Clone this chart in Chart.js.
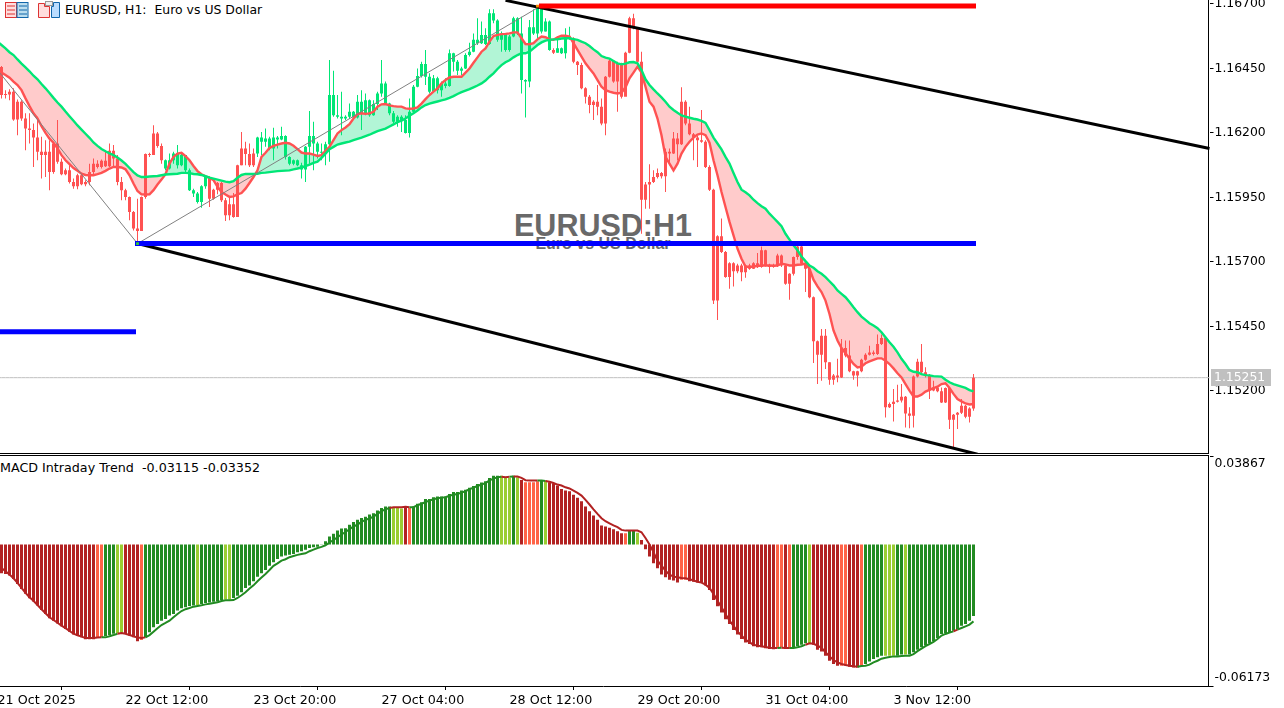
<!DOCTYPE html>
<html>
<head>
<meta charset="utf-8">
<title>EURUSD H1</title>
<script src="https://cdn.jsdelivr.net/npm/chart.js@4"></script>
<style>
  html, body { margin: 0; padding: 0; background: #fff; overflow: hidden; }
  body { width: 1284px; height: 708px; position: relative; font-family: "DejaVu Sans", sans-serif; }
  canvas { position: absolute; left: -4px; }
  .txt { position: absolute; white-space: pre; color: #000; font-size: 12.45px; line-height: 14px; }
  .big { position: absolute; font-family: "Liberation Sans", sans-serif; font-weight: bold; color: #696969; transform: translateX(-50%); white-space: pre; }
  .rule { position: absolute; left: 0; width: 1209px; height: 1px; background: #000; }
  .axis { position: absolute; left: 1208px; width: 1px; background: #000; }
</style>
</head>
<body>
<svg style="position:absolute;left:5px;top:2px" width="24" height="17" viewBox="0 0 24 17">
  <rect x="0.5" y="0.5" width="11" height="15" fill="#fdd" stroke="#d33"/><rect x="12" y="0.5" width="11" height="15" fill="#bde" stroke="#16a"/>
  <path d="M2 4h8M2 8h8M2 12h8" stroke="#d33"/><path d="M14 4h8M14 8h8M14 12h8" stroke="#16a"/>
</svg>
<svg style="position:absolute;left:38px;top:1px" width="23" height="18" viewBox="0 0 23 18">
  <path d="M0.5 2.5h6v3h5v11h-11z" fill="#fdd" stroke="#d33"/><path d="M13.5 5.5h2v-4h6v15h-8z" fill="#bdf" stroke="#16a"/>
  <rect x="7.5" y="0.5" width="7" height="4" fill="#eee" stroke="#999"/>
</svg>
<div class="txt" style="left:65px;top:3px">EURUSD, H1:  Euro vs US Dollar</div>
<div class="big" style="left:603px;top:208px;font-size:30.5px;line-height:35px">EURUSD:H1</div>
<div class="big" style="left:603px;top:235px;font-size:16px;line-height:18px">Euro vs US Dollar</div>
<div class="txt" style="left:0;top:461px;font-size:12.7px">MACD Intraday Trend  -0.03115 -0.03352</div>
<div class="rule" style="top:453px"></div>
<div class="rule" style="top:455px"></div>
<div class="axis" style="top:0;height:454px"></div>
<div class="axis" style="top:455px;height:232px"></div>
<canvas id="priceChart" width="1288" height="454" style="top:0"></canvas>
<canvas id="macdChart" width="1288" height="252" style="top:456px"></canvas>
<script>
const firstOpen = 1.16456;
const closes = [1.16347,1.16349,1.16360,1.16252,1.16321,1.16256,1.16217,1.16211,1.16182,1.16127,1.16114,1.16127,1.16049,1.16159,1.16088,1.16040,1.16055,1.16010,1.15993,1.16036,1.16001,1.16010,1.16049,1.16081,1.16068,1.16092,1.16071,1.16131,1.16101,1.16010,1.15978,1.15952,1.15893,1.15829,1.15820,1.15952,1.16118,1.16114,1.16198,1.16149,1.16094,1.16062,1.16094,1.16120,1.16075,1.16114,1.16055,1.15978,1.15965,1.15932,1.15993,1.16029,1.15945,1.15980,1.16006,1.15939,1.15881,1.15923,1.15874,1.16075,1.16140,1.16118,1.16075,1.16120,1.16182,1.16166,1.16178,1.16140,1.16182,1.16175,1.16188,1.16107,1.16081,1.16094,1.16075,1.16058,1.16146,1.16188,1.16159,1.16127,1.16123,1.16156,1.16347,1.16269,1.16263,1.16256,1.16263,1.16282,1.16260,1.16321,1.16276,1.16327,1.16269,1.16312,1.16353,1.16392,1.16314,1.16276,1.16243,1.16263,1.16250,1.16200,1.16282,1.16379,1.16421,1.16467,1.16418,1.16360,1.16412,1.16366,1.16392,1.16382,1.16509,1.16476,1.16441,1.16450,1.16502,1.16515,1.16561,1.16548,1.16580,1.16545,1.16664,1.16636,1.16561,1.16586,1.16522,1.16574,1.16645,1.16586,1.16405,1.16399,1.16610,1.16586,1.16684,1.16593,1.16632,1.16522,1.16511,1.16528,1.16509,1.16574,1.16567,1.16476,1.16463,1.16373,1.16340,1.16308,1.16321,1.16302,1.16237,1.16418,1.16480,1.16399,1.16470,1.16340,1.16511,1.16645,1.16606,1.16476,1.15941,1.16000,1.16010,1.16029,1.16045,1.16032,1.16127,1.16120,1.16178,1.16156,1.16321,1.16237,1.16195,1.16182,1.16172,1.16166,1.16068,1.15980,1.15550,1.15799,1.15738,1.15641,1.15695,1.15664,1.15686,1.15660,1.15686,1.15673,1.15695,1.15680,1.15745,1.15686,1.15680,1.15686,1.15725,1.15686,1.15615,1.15654,1.15719,1.15760,1.15693,1.15673,1.15563,1.15392,1.15340,1.15414,1.15311,1.15243,1.15259,1.15252,1.15366,1.15337,1.15276,1.15259,1.15276,1.15320,1.15340,1.15349,1.15343,1.15382,1.15405,1.15136,1.15149,1.15158,1.15162,1.15177,1.15112,1.15103,1.15256,1.15313,1.15272,1.15259,1.15201,1.15213,1.15198,1.15155,1.15211,1.15088,1.15107,1.15115,1.15142,1.15099,1.15131,1.15251];
const highs = [1.16460,1.16366,1.16369,1.16373,1.16330,1.16327,1.16276,1.16276,1.16237,1.16263,1.16185,1.16172,1.16172,1.16166,1.16250,1.16101,1.16062,1.16075,1.16023,1.16042,1.16042,1.16017,1.16081,1.16101,1.16094,1.16097,1.16133,1.16159,1.16153,1.16114,1.16029,1.15984,1.15954,1.15897,1.15945,1.15954,1.16120,1.16123,1.16230,1.16204,1.16159,1.16097,1.16120,1.16127,1.16153,1.16120,1.16114,1.16062,1.15984,1.15971,1.15997,1.16032,1.16032,1.15984,1.16010,1.16010,1.15948,1.15949,1.15967,1.16077,1.16204,1.16166,1.16159,1.16140,1.16185,1.16204,1.16217,1.16185,1.16220,1.16188,1.16224,1.16191,1.16110,1.16097,1.16097,1.16084,1.16149,1.16285,1.16243,1.16166,1.16159,1.16166,1.16483,1.16441,1.16347,1.16360,1.16269,1.16314,1.16285,1.16347,1.16366,1.16353,1.16330,1.16327,1.16360,1.16483,1.16399,1.16317,1.16285,1.16269,1.16269,1.16269,1.16334,1.16386,1.16450,1.16476,1.16522,1.16431,1.16425,1.16418,1.16399,1.16412,1.16524,1.16511,1.16483,1.16457,1.16509,1.16550,1.16586,1.16645,1.16632,1.16606,1.16680,1.16680,1.16641,1.16593,1.16586,1.16580,1.16651,1.16649,1.16651,1.16408,1.16638,1.16680,1.16690,1.16688,1.16645,1.16636,1.16528,1.16574,1.16531,1.16606,1.16612,1.16571,1.16479,1.16472,1.16377,1.16347,1.16327,1.16386,1.16334,1.16421,1.16485,1.16483,1.16476,1.16472,1.16515,1.16651,1.16662,1.16580,1.16515,1.16010,1.16079,1.16055,1.16062,1.16049,1.16140,1.16140,1.16204,1.16200,1.16377,1.16327,1.16302,1.16200,1.16188,1.16289,1.16172,1.16075,1.15984,1.15803,1.15868,1.15742,1.15699,1.15699,1.15693,1.15693,1.15689,1.15693,1.15699,1.15734,1.15760,1.15747,1.15693,1.15693,1.15732,1.15729,1.15690,1.15656,1.15721,1.15764,1.15764,1.15699,1.15676,1.15566,1.15395,1.15440,1.15440,1.15311,1.15265,1.15324,1.15401,1.15395,1.15395,1.15278,1.15278,1.15324,1.15346,1.15375,1.15356,1.15418,1.15418,1.15405,1.15155,1.15207,1.15224,1.15226,1.15180,1.15136,1.15259,1.15324,1.15382,1.15291,1.15265,1.15239,1.15216,1.15213,1.15213,1.15213,1.15110,1.15118,1.15168,1.15145,1.15136,1.15265];
const lows = [1.16334,1.16334,1.16327,1.16247,1.16191,1.16247,1.16133,1.16159,1.16068,1.16094,1.16023,1.16029,1.15978,1.16042,1.16081,1.16036,1.16036,1.16004,1.15984,1.15982,1.15997,1.15993,1.15997,1.16040,1.16062,1.16062,1.16068,1.16068,1.16068,1.15997,1.15939,1.15939,1.15861,1.15822,1.15764,1.15820,1.15945,1.16107,1.16114,1.16143,1.16081,1.16055,1.16058,1.16081,1.16062,1.16071,1.16042,1.15975,1.15952,1.15926,1.15910,1.15984,1.15913,1.15941,1.15962,1.15932,1.15859,1.15861,1.15871,1.15874,1.16075,1.16075,1.16068,1.16068,1.16107,1.16114,1.16146,1.16133,1.16094,1.16140,1.16172,1.16097,1.16075,1.16075,1.16071,1.16023,1.16010,1.16081,1.16055,1.16101,1.16094,1.16075,1.16088,1.16263,1.16256,1.16191,1.16250,1.16254,1.16250,1.16256,1.16211,1.16269,1.16263,1.16267,1.16289,1.16340,1.16308,1.16269,1.16237,1.16224,1.16204,1.16198,1.16182,1.16276,1.16377,1.16415,1.16386,1.16353,1.16356,1.16353,1.16340,1.16373,1.16379,1.16438,1.16425,1.16425,1.16448,1.16496,1.16513,1.16541,1.16545,1.16541,1.16542,1.16625,1.16554,1.16515,1.16515,1.16515,1.16571,1.16580,1.16353,1.16260,1.16377,1.16580,1.16567,1.16586,1.16593,1.16519,1.16506,1.16511,1.16506,1.16489,1.16561,1.16470,1.16425,1.16369,1.16314,1.16276,1.16250,1.16269,1.16230,1.16191,1.16415,1.16395,1.16282,1.16334,1.16351,1.16509,1.16602,1.16470,1.15809,1.15906,1.15906,1.16006,1.16023,1.16023,1.15971,1.16075,1.16118,1.16094,1.16153,1.16230,1.16191,1.16094,1.16068,1.16162,1.16064,1.15975,1.15537,1.15475,1.15734,1.15638,1.15596,1.15605,1.15656,1.15625,1.15638,1.15669,1.15672,1.15676,1.15677,1.15682,1.15656,1.15677,1.15680,1.15680,1.15611,1.15553,1.15647,1.15708,1.15690,1.15583,1.15559,1.15308,1.15226,1.15239,1.15285,1.15224,1.15224,1.15233,1.15250,1.15330,1.15272,1.15243,1.15217,1.15272,1.15317,1.15337,1.15337,1.15339,1.15378,1.15097,1.15133,1.15081,1.15155,1.15155,1.15058,1.15055,1.15058,1.15252,1.15268,1.15252,1.15168,1.15198,1.15194,1.15153,1.15153,1.15052,1.14980,1.15052,1.15110,1.15094,1.15077,1.15123];
const fastMA = [1.16434,1.16425,1.16414,1.16399,1.16386,1.16366,1.16334,1.16304,1.16276,1.16256,1.16226,1.16200,1.16178,1.16162,1.16140,1.16114,1.16094,1.16079,1.16064,1.16053,1.16042,1.16037,1.16036,1.16036,1.16040,1.16045,1.16053,1.16062,1.16068,1.16068,1.16066,1.16059,1.16036,1.16004,1.15975,1.15962,1.15961,1.15962,1.15978,1.16000,1.16019,1.16040,1.16081,1.16107,1.16120,1.16123,1.16110,1.16094,1.16072,1.16052,1.16040,1.16032,1.16026,1.16017,1.15991,1.15971,1.15961,1.15952,1.15954,1.15962,1.15967,1.15984,1.16006,1.16029,1.16055,1.16107,1.16123,1.16142,1.16150,1.16155,1.16159,1.16162,1.16159,1.16150,1.16137,1.16124,1.16120,1.16120,1.16116,1.16111,1.16114,1.16131,1.16146,1.16172,1.16198,1.16211,1.16221,1.16234,1.16256,1.16273,1.16276,1.16274,1.16276,1.16282,1.16302,1.16311,1.16312,1.16307,1.16304,1.16302,1.16302,1.16295,1.16294,1.16295,1.16299,1.16314,1.16331,1.16347,1.16360,1.16373,1.16392,1.16405,1.16415,1.16418,1.16418,1.16418,1.16434,1.16450,1.16472,1.16493,1.16515,1.16528,1.16554,1.16576,1.16580,1.16583,1.16584,1.16586,1.16590,1.16590,1.16567,1.16545,1.16544,1.16548,1.16563,1.16574,1.16571,1.16563,1.16561,1.16571,1.16577,1.16577,1.16574,1.16548,1.16522,1.16496,1.16470,1.16450,1.16431,1.16405,1.16379,1.16366,1.16360,1.16356,1.16353,1.16356,1.16377,1.16412,1.16434,1.16457,1.16434,1.16379,1.16321,1.16302,1.16256,1.16191,1.16107,1.16081,1.16055,1.16081,1.16120,1.16146,1.16166,1.16182,1.16194,1.16198,1.16191,1.16162,1.16094,1.16036,1.15971,1.15913,1.15855,1.15803,1.15751,1.15712,1.15682,1.15680,1.15682,1.15684,1.15686,1.15686,1.15686,1.15685,1.15686,1.15693,1.15690,1.15686,1.15686,1.15689,1.15690,1.15693,1.15673,1.15631,1.15605,1.15583,1.15550,1.15498,1.15434,1.15395,1.15366,1.15346,1.15324,1.15304,1.15291,1.15294,1.15307,1.15314,1.15320,1.15326,1.15326,1.15317,1.15304,1.15287,1.15268,1.15252,1.15226,1.15201,1.15178,1.15178,1.15185,1.15197,1.15204,1.15210,1.15216,1.15226,1.15229,1.15211,1.15188,1.15168,1.15159,1.15151,1.15147,1.15149];
const slowMA = [1.16541,1.16528,1.16513,1.16502,1.16485,1.16469,1.16454,1.16439,1.16422,1.16408,1.16390,1.16373,1.16355,1.16336,1.16318,1.16302,1.16283,1.16265,1.16247,1.16229,1.16213,1.16197,1.16181,1.16163,1.16150,1.16138,1.16129,1.16121,1.16114,1.16105,1.16093,1.16080,1.16064,1.16048,1.16035,1.16029,1.16029,1.16031,1.16032,1.16033,1.16036,1.16039,1.16040,1.16041,1.16042,1.16045,1.16045,1.16044,1.16041,1.16040,1.16037,1.16032,1.16027,1.16023,1.16019,1.16015,1.16011,1.16009,1.16013,1.16026,1.16037,1.16041,1.16041,1.16041,1.16042,1.16045,1.16046,1.16048,1.16050,1.16052,1.16053,1.16054,1.16055,1.16059,1.16062,1.16066,1.16071,1.16077,1.16084,1.16089,1.16103,1.16120,1.16137,1.16146,1.16155,1.16159,1.16163,1.16166,1.16172,1.16177,1.16182,1.16188,1.16193,1.16200,1.16207,1.16212,1.16217,1.16225,1.16233,1.16242,1.16248,1.16256,1.16267,1.16276,1.16287,1.16299,1.16308,1.16314,1.16318,1.16322,1.16326,1.16330,1.16336,1.16343,1.16351,1.16358,1.16364,1.16370,1.16377,1.16384,1.16392,1.16403,1.16418,1.16431,1.16448,1.16463,1.16474,1.16482,1.16493,1.16502,1.16509,1.16509,1.16515,1.16528,1.16541,1.16551,1.16558,1.16561,1.16563,1.16563,1.16566,1.16567,1.16567,1.16564,1.16561,1.16554,1.16548,1.16537,1.16524,1.16513,1.16498,1.16492,1.16488,1.16479,1.16470,1.16466,1.16469,1.16474,1.16475,1.16470,1.16444,1.16408,1.16386,1.16369,1.16353,1.16338,1.16321,1.16302,1.16289,1.16278,1.16268,1.16263,1.16259,1.16255,1.16252,1.16247,1.16239,1.16211,1.16182,1.16159,1.16136,1.16107,1.16081,1.16045,1.16010,1.15980,1.15970,1.15958,1.15941,1.15928,1.15916,1.15906,1.15887,1.15871,1.15855,1.15838,1.15809,1.15786,1.15764,1.15745,1.15721,1.15703,1.15686,1.15677,1.15664,1.15654,1.15641,1.15625,1.15609,1.15589,1.15576,1.15563,1.15544,1.15524,1.15505,1.15488,1.15475,1.15462,1.15453,1.15443,1.15427,1.15408,1.15388,1.15371,1.15349,1.15324,1.15304,1.15281,1.15274,1.15272,1.15265,1.15261,1.15260,1.15257,1.15256,1.15255,1.15243,1.15233,1.15226,1.15221,1.15216,1.15211,1.15203,1.15198];
const macdValues = [-0.0125,-0.0128,-0.0135,-0.0150,-0.0172,-0.0194,-0.0215,-0.0234,-0.0248,-0.0266,-0.0285,-0.0303,-0.0322,-0.0332,-0.0344,-0.0357,-0.0368,-0.0380,-0.0393,-0.0399,-0.0405,-0.0413,-0.0413,-0.0413,-0.0408,-0.0405,-0.0399,-0.0395,-0.0389,-0.0386,-0.0386,-0.0390,-0.0397,-0.0405,-0.0422,-0.0416,-0.0405,-0.0383,-0.0361,-0.0347,-0.0332,-0.0325,-0.0310,-0.0303,-0.0288,-0.0278,-0.0274,-0.0268,-0.0266,-0.0264,-0.0259,-0.0255,-0.0253,-0.0250,-0.0248,-0.0242,-0.0240,-0.0240,-0.0233,-0.0223,-0.0208,-0.0189,-0.0179,-0.0160,-0.0140,-0.0125,-0.0111,-0.0092,-0.0077,-0.0063,-0.0052,-0.0048,-0.0044,-0.0041,-0.0033,-0.0029,-0.0023,-0.0015,-0.0012,-0.0009,0.0002,0.0015,0.0035,0.0047,0.0061,0.0070,0.0071,0.0087,0.0099,0.0108,0.0116,0.0122,0.0131,0.0137,0.0149,0.0160,0.0166,0.0166,0.0163,0.0160,0.0157,0.0163,0.0160,0.0166,0.0178,0.0185,0.0199,0.0199,0.0207,0.0210,0.0210,0.0210,0.0221,0.0230,0.0230,0.0236,0.0239,0.0248,0.0256,0.0265,0.0271,0.0277,0.0291,0.0301,0.0301,0.0300,0.0291,0.0291,0.0300,0.0294,0.0282,0.0272,0.0272,0.0272,0.0277,0.0282,0.0280,0.0272,0.0268,0.0258,0.0243,0.0236,0.0233,0.0218,0.0204,0.0189,0.0166,0.0146,0.0127,0.0108,0.0083,0.0079,0.0073,0.0067,0.0058,0.0050,0.0050,0.0061,0.0061,0.0052,0.0020,-0.0020,-0.0052,-0.0082,-0.0103,-0.0131,-0.0143,-0.0153,-0.0157,-0.0165,-0.0154,-0.0154,-0.0160,-0.0162,-0.0165,-0.0167,-0.0179,-0.0198,-0.0242,-0.0269,-0.0296,-0.0326,-0.0347,-0.0373,-0.0393,-0.0412,-0.0427,-0.0434,-0.0444,-0.0448,-0.0448,-0.0453,-0.0456,-0.0457,-0.0451,-0.0448,-0.0456,-0.0456,-0.0448,-0.0444,-0.0437,-0.0431,-0.0431,-0.0437,-0.0459,-0.0467,-0.0485,-0.0507,-0.0521,-0.0529,-0.0529,-0.0529,-0.0533,-0.0536,-0.0536,-0.0529,-0.0521,-0.0510,-0.0499,-0.0492,-0.0485,-0.0485,-0.0485,-0.0485,-0.0485,-0.0480,-0.0480,-0.0480,-0.0470,-0.0459,-0.0448,-0.0441,-0.0431,-0.0422,-0.0408,-0.0390,-0.0387,-0.0383,-0.0376,-0.0371,-0.0354,-0.0347,-0.0332,-0.03115];
const signalValues = [-0.0102,-0.0116,-0.0131,-0.0147,-0.0167,-0.0189,-0.0211,-0.0230,-0.0245,-0.0264,-0.0282,-0.0300,-0.0317,-0.0329,-0.0341,-0.0354,-0.0365,-0.0377,-0.0389,-0.0396,-0.0402,-0.0408,-0.0408,-0.0408,-0.0406,-0.0405,-0.0405,-0.0400,-0.0395,-0.0389,-0.0386,-0.0389,-0.0395,-0.0400,-0.0406,-0.0408,-0.0405,-0.0395,-0.0380,-0.0365,-0.0351,-0.0342,-0.0332,-0.0317,-0.0303,-0.0290,-0.0282,-0.0277,-0.0271,-0.0268,-0.0265,-0.0261,-0.0258,-0.0255,-0.0252,-0.0246,-0.0243,-0.0243,-0.0242,-0.0233,-0.0221,-0.0208,-0.0192,-0.0178,-0.0160,-0.0144,-0.0128,-0.0111,-0.0093,-0.0082,-0.0070,-0.0064,-0.0055,-0.0050,-0.0045,-0.0041,-0.0038,-0.0029,-0.0022,-0.0015,-0.0010,-0.0003,0.0009,0.0020,0.0032,0.0044,0.0055,0.0067,0.0079,0.0087,0.0099,0.0108,0.0114,0.0122,0.0134,0.0146,0.0154,0.0160,0.0163,0.0163,0.0163,0.0165,0.0163,0.0163,0.0172,0.0178,0.0186,0.0192,0.0198,0.0202,0.0205,0.0207,0.0213,0.0218,0.0221,0.0227,0.0233,0.0242,0.0248,0.0256,0.0262,0.0268,0.0280,0.0288,0.0294,0.0296,0.0294,0.0296,0.0297,0.0297,0.0291,0.0281,0.0280,0.0280,0.0280,0.0280,0.0278,0.0274,0.0269,0.0262,0.0258,0.0250,0.0245,0.0236,0.0226,0.0214,0.0195,0.0175,0.0154,0.0134,0.0115,0.0102,0.0093,0.0084,0.0076,0.0064,0.0061,0.0061,0.0061,0.0061,0.0054,0.0029,0.0000,-0.0033,-0.0070,-0.0092,-0.0114,-0.0131,-0.0140,-0.0143,-0.0146,-0.0147,-0.0151,-0.0157,-0.0162,-0.0166,-0.0175,-0.0189,-0.0215,-0.0245,-0.0274,-0.0303,-0.0332,-0.0355,-0.0379,-0.0397,-0.0415,-0.0427,-0.0437,-0.0441,-0.0444,-0.0447,-0.0450,-0.0451,-0.0451,-0.0450,-0.0451,-0.0451,-0.0451,-0.0448,-0.0444,-0.0437,-0.0431,-0.0433,-0.0441,-0.0451,-0.0470,-0.0488,-0.0504,-0.0514,-0.0521,-0.0526,-0.0529,-0.0531,-0.0533,-0.0530,-0.0529,-0.0524,-0.0514,-0.0507,-0.0498,-0.0494,-0.0491,-0.0488,-0.0488,-0.0486,-0.0485,-0.0485,-0.0478,-0.0465,-0.0454,-0.0443,-0.0434,-0.0425,-0.0412,-0.0397,-0.0390,-0.0384,-0.0379,-0.0371,-0.0364,-0.0357,-0.0349,-0.03352];
// one bar earlier than the visible window, so the lines run in from the left edge
const fastBefore = 1.16441, slowBefore = 1.16554, signalBefore = -0.0090;
// runs of histogram state: G rising green, Y fading green, R falling red, T fading red
const macdRuns = [["R",24],["T",2],["G",3],["Y",2],["R",4],["T",1],["G",13],["Y",1],["G",6],["Y",2],["G",40],["Y",3],["R",1],["T",1],["G",22],["Y",3],["G",1],["Y",1],["R",1],["T",4],["G",1],["Y",1],["R",19],["T",1],["G",2],["Y",1],["R",10],["T",2],["R",22],["T",2],["R",1],["T",1],["G",4],["Y",1],["R",7],["T",2],["R",3],["T",1],["G",5],["Y",3],["G",2],["Y",1],["G",17]];

const priceTicks = [1.167, 1.1645, 1.162, 1.1595, 1.157, 1.1545, 1.152];
const lastPrice = 1.15251;
const priceMin = 1.14955, priceMax = 1.167155;
const macdTop = 0.03867, macdBottom = -0.06173;

const tickIndexes = [-1, 31, 63, 95, 127, 159, 191, 223];
const tickLabels = ["21 Oct 2025", "22 Oct 12:00", "23 Oct 20:00", "27 Oct 04:00", "28 Oct 12:00", "29 Oct 20:00", "31 Oct 04:00", "3 Nov 12:00"];

// [barIndex, price] ends of the objects drawn on the chart
const zigzagPivots = [[-1, 1.16444], [34, 1.15771], [134, 1.16685]];
const blueUpper = [[34, 1.15771], [243, 1.15771]];
const blueLower = [[-1, 1.15429], [33, 1.15429]];
const redLevel = [[135, 1.16692], [243, 1.16692]];
const channelTop = [[126, 1.16714], [302, 1.1614]];
const channelBottom = [[34, 1.15771], [244, 1.14954]];
const pivotLow = [[34, 1.15771]];
const pivotHigh = [[134, 1.16692]];

const totalSlots = 304; // one slot off screen left, empty space right of the last bar
const slots = Array.from({ length: totalSlots }, (_, i) => String(i - 1));
const opens = [firstOpen, ...closes.slice(0, -1)];
const fastSeries = [fastBefore, ...fastMA];
const slowSeries = [slowBefore, ...slowMA];
const macdSeries = [null, ...macdValues];
const signalSeries = [signalBefore, ...signalValues];

const RED = "#FF5252", GREEN = "#00E676";
const HIST = { G: "#228B22", Y: "#9ACD32", R: "#B22222", T: "#FF6347" };

function sparse(points) {
  const out = new Array(totalSlots).fill(null);
  points.forEach(([i, v]) => { out[i + 1] = v; });
  return out;
}
function overlay(points, color, width, order, cap) {
  return { type: "line", data: sparse(points), borderColor: color, borderWidth: width, spanGaps: true,
    pointRadius: 0, fill: false, order, borderCapStyle: cap || "butt" };
}
function marker(points, color) {
  return { type: "line", data: sparse(points), showLine: false, pointStyle: "rect", pointRadius: 2,
    pointBorderWidth: 0, pointBackgroundColor: color, order: -1 };
}
function fixSize(w, h) {
  return (s) => {
    if (w !== null) s.width = w;
    if (h !== null) s.height = h;
    s.paddingLeft = s.paddingRight = s.paddingTop = s.paddingBottom = 0;
  };
}

const candleColors = [RED, ...closes.map((_, i) => (fastMA[i] >= slowMA[i] ? GREEN : RED))];
const barCommon = { type: "bar", grouped: false, borderWidth: 0, inflateAmount: 0, minBarLength: 1, backgroundColor: candleColors };

const priceLabel = {
  id: "priceLabel",
  afterDraw(chart) {
    const c = chart.ctx, y = Math.round(chart.scales.y.getPixelForValue(lastPrice));
    c.save();
    c.fillStyle = "#C0C0C0";
    c.fillRect(1215, y - 9, 60, 17);
    c.fillStyle = "#fff";
    c.font = "12.4px 'DejaVu Sans'";
    c.textBaseline = "middle";
    c.fillText(lastPrice.toFixed(5), 1218, y);
    c.restore();
  }
};

new Chart(document.getElementById("priceChart"), {
  data: {
    labels: slots,
    datasets: [
      { type: "line", data: fastSeries, borderWidth: 0, pointRadius: 0, order: 20,
        fill: { target: 1, above: "#B2F5D6", below: "#FFCBCB" } },
      { type: "line", data: slowSeries, borderColor: GREEN, borderWidth: 2.4, pointRadius: 0, fill: false, order: 3 },
      { type: "line", data: fastSeries, borderColor: RED, borderWidth: 2.4, pointRadius: 0, fill: false, order: 4 },
      { ...barCommon, data: [null, ...lows.map((l, i) => [l, highs[i]])], barThickness: 1, order: 10 },
      { ...barCommon, data: [null, ...opens.map((o, i) => [o, closes[i]])], barThickness: 3, order: 9 },
      overlay(zigzagPivots, "#808080", 1, 2),
      { type: "line", data: slots.map(() => lastPrice), borderColor: "#C0C0C0", borderWidth: 1, pointRadius: 0, fill: false, order: 15 },
      overlay(channelTop, "#000", 3, 1),
      overlay(channelBottom, "#000", 3, 1),
      overlay(blueUpper, "#0000FF", 5, 0, "square"),
      overlay(blueLower, "#0000FF", 5, 0, "square"),
      overlay(redLevel, "#FF0000", 5, 0, "square"),
      marker(pivotLow, "#32CD32"),
      marker(pivotHigh, "#FF8C00")
    ]
  },
  options: {
    responsive: false, animation: false, events: [],
    layout: { autoPadding: false, padding: { left: 1.5, top: 0, right: 0, bottom: 0 } },
    plugins: { legend: { display: false }, tooltip: { enabled: false } },
    scales: {
      x: { offset: false, grid: { display: false }, border: { display: false }, ticks: { display: false },
        afterFit: fixSize(null, 0) },
      y: { position: "right", min: priceMin, max: priceMax,
        afterBuildTicks: (s) => { s.ticks = priceTicks.map((value) => ({ value })); },
        afterFit: fixSize(74.5, null),
        grid: { drawOnChartArea: false, color: "#000", tickLength: 4 }, border: { display: false },
        ticks: { color: "#000", font: { family: "DejaVu Sans", size: 12.4 }, padding: 1, callback: (v) => v.toFixed(5) } }
    }
  },
  plugins: [priceLabel]
});

const histColors = [null, ...macdRuns.flatMap(([s, n]) => new Array(n).fill(HIST[s]))];

new Chart(document.getElementById("macdChart"), {
  data: {
    labels: slots,
    datasets: [
      { type: "line", data: signalSeries, borderWidth: 2, pointRadius: 0, fill: false, order: 1,
        borderColor: HIST.G,
        segment: { borderColor: (c) => (macdSeries[c.p1DataIndex] > signalSeries[c.p1DataIndex] ? HIST.G : HIST.R) } },
      { type: "bar", data: macdSeries, backgroundColor: histColors, barThickness: 3, borderWidth: 0, inflateAmount: 0, order: 2 }
    ]
  },
  options: {
    responsive: false, animation: false, events: [],
    layout: { autoPadding: false, padding: { left: 1.5, top: 0, right: 0, bottom: 0 } },
    plugins: { legend: { display: false }, tooltip: { enabled: false } },
    scales: {
      x: { offset: false, border: { color: "#000" },
        grid: { drawOnChartArea: false, tickLength: 4, tickColor: (c) => (c.index === 0 ? "transparent" : "#000") },
        afterBuildTicks: (s) => { s.ticks = tickIndexes.map((i) => ({ value: i + 1 })); },
        afterFit: fixSize(null, 22),
        ticks: { autoSkip: false, maxRotation: 0, align: "start", color: "#000", padding: 3,
          font: { family: "DejaVu Sans", size: 12.7 },
          callback: (v) => tickLabels[tickIndexes.indexOf(v - 1)] } },
      y: { position: "right", min: macdBottom, max: macdTop,
        afterBuildTicks: (s) => { s.ticks = [macdBottom, macdTop].map((value) => ({ value })); },
        afterFit: fixSize(74.5, null),
        grid: { drawOnChartArea: false, color: "#000", tickLength: 4 }, border: { display: false },
        // the scale's end labels sit inside the panel, so each gets an empty line on the outer side
        ticks: { color: "#000", font: { family: "DejaVu Sans", size: 12.4, lineHeight: 1.29 }, padding: 1,
          callback: (v) => (v > 0 ? ["", v.toFixed(5)] : [v.toFixed(5), ""]) } }
    }
  }
});
</script>
</body>
</html>
